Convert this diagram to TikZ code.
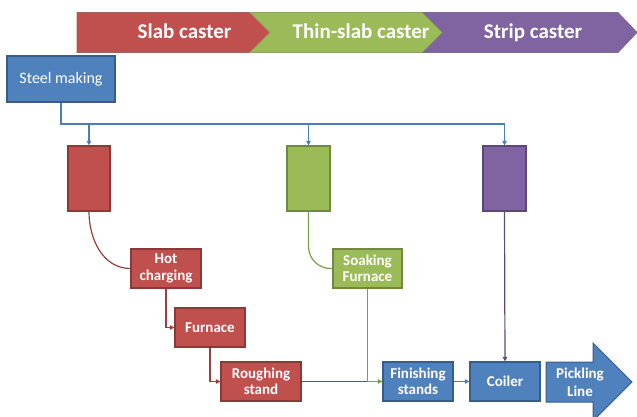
\documentclass[tikz,border=0pt]{standalone}
\usepackage{fontspec}
\setmainfont{Carlito}
\usetikzlibrary{arrows.meta}
\definecolor{rfill}{HTML}{C0504D}
\definecolor{rdraw}{HTML}{8C3836}
\definecolor{rline}{HTML}{9A403D}
\definecolor{gfill}{HTML}{9BBB59}
\definecolor{gdraw}{HTML}{71893F}
\definecolor{gline}{HTML}{77A043}
\definecolor{pfill}{HTML}{8064A2}
\definecolor{pdraw}{HTML}{5C4776}
\definecolor{pline}{HTML}{604A7B}
\definecolor{bfill}{HTML}{4F81BD}
\definecolor{bdraw}{HTML}{385D8A}
\definecolor{bline}{HTML}{4A7EBB}
\tikzset{
  box/.style={draw, line width=1.2pt, inner sep=0pt, text=white, align=center,
    font=\bfseries\fontsize{15}{16.5}\selectfont, minimum height=39pt},
  redbox/.style={box, fill=rfill, draw=rdraw},
  greenbox/.style={box, fill=gfill, draw=gdraw},
  purplebox/.style={box, fill=pfill, draw=pdraw},
  bluebox/.style={box, fill=bfill, draw=bdraw},
  conn/.style={line width=1.2pt},
  arr/.style={conn, -{Triangle[length=4.5pt,width=4.5pt]}},
  bannertext/.style={text=white, font=\bfseries\fontsize{21}{24}\selectfont, anchor=base, inner sep=0pt},
}
\begin{document}
\begin{tikzpicture}[x=1pt,y=-1pt]
\useasboundingbox (0,0) rectangle (637,417);
% banner
\filldraw[fill=rfill, draw=rdraw!80, line width=0.8pt] (77,12.5) -- (250,12.5) -- (270,32.5) -- (250,52.5) -- (77,52.5) -- cycle;
\filldraw[fill=gfill, draw=gdraw!80, line width=0.8pt] (250,12.5) -- (423,12.5) -- (443,32.5) -- (423,52.5) -- (250,52.5) -- (270,32.5) -- cycle;
\filldraw[fill=pfill, draw=pdraw!80, line width=0.8pt] (423,12.5) -- (618,12.5) -- (637,32.5) -- (618,52.5) -- (423,52.5) -- (443,32.5) -- cycle;
\node[bannertext] (tslab) at (184.5,39) {Slab caster};
\node[bannertext] (tthin) at (361,39) {Thin-slab caster};
\node[bannertext] (tstrip) at (533,39) {Strip caster};
% boxes
\node[bluebox, minimum width=108pt, minimum height=46pt, font=\fontsize{16}{19}\selectfont] (steel) at (61,79) {Steel making};
\node[redbox, minimum width=42pt, minimum height=65pt] (slab) at (89,178.5) {};
\node[greenbox, minimum width=43pt, minimum height=65pt] (thin) at (308.5,178.5) {};
\node[purplebox, minimum width=43pt, minimum height=65pt] (strip) at (504.5,178.5) {};
\node[redbox, minimum width=70pt] (hot) at (166,268.5) {Hot\\charging};
\node[redbox, minimum width=70pt] (furn) at (210,327.5) {Furnace};
\node[redbox, minimum width=80pt] (rough) at (261,381.5) {Roughing\\stand};
\node[greenbox, minimum width=69pt] (soak) at (367.5,268.5) {Soaking\\Furnace};
\node[bluebox, minimum width=70pt] (fin) at (418,381.5) {Finishing\\stands};
\node[bluebox, minimum width=70pt] (coil) at (505,381.5) {Coiler};
% pickling line arrow
\filldraw[fill=bfill, draw=bdraw, line width=1pt] (546,362) -- (593,362) -- (593,343) -- (632,382) -- (593,421) -- (593,402) -- (546,402) -- cycle;
\node[text=white, align=center, inner sep=0pt, font=\bfseries\fontsize{15}{18}\selectfont] (pick) at (580,382) {Pickling\\Line};
% connectors
\coordinate (bus) at (504.5,124);
\draw[conn, bline] (steel.south) |- (bus);
\draw[arr, bline] (slab.north |- bus) -- (slab.north);
\draw[arr, bline] (thin.north |- bus) -- (thin.north);
\draw[arr, bline] (bus) -- (strip.north);
\draw[conn, rline] (slab.south) to[out=-90, in=180] (hot.west);
\draw[arr, rline] (hot.south) |- (furn.west);
\draw[arr, rline] (furn.south) |- (rough.west);
\draw[conn, rline] (rough.east) -- (fin.west);
\draw[conn, gline, rounded corners=22pt] (thin.south) |- (soak.west);
\draw[arr, gline] (soak.south) |- (fin.west);
\draw[arr, bline] (fin.east) -- (coil.west);
\draw[arr, pline] (strip.south) -- (coil.north);
\end{tikzpicture}
\end{document}
